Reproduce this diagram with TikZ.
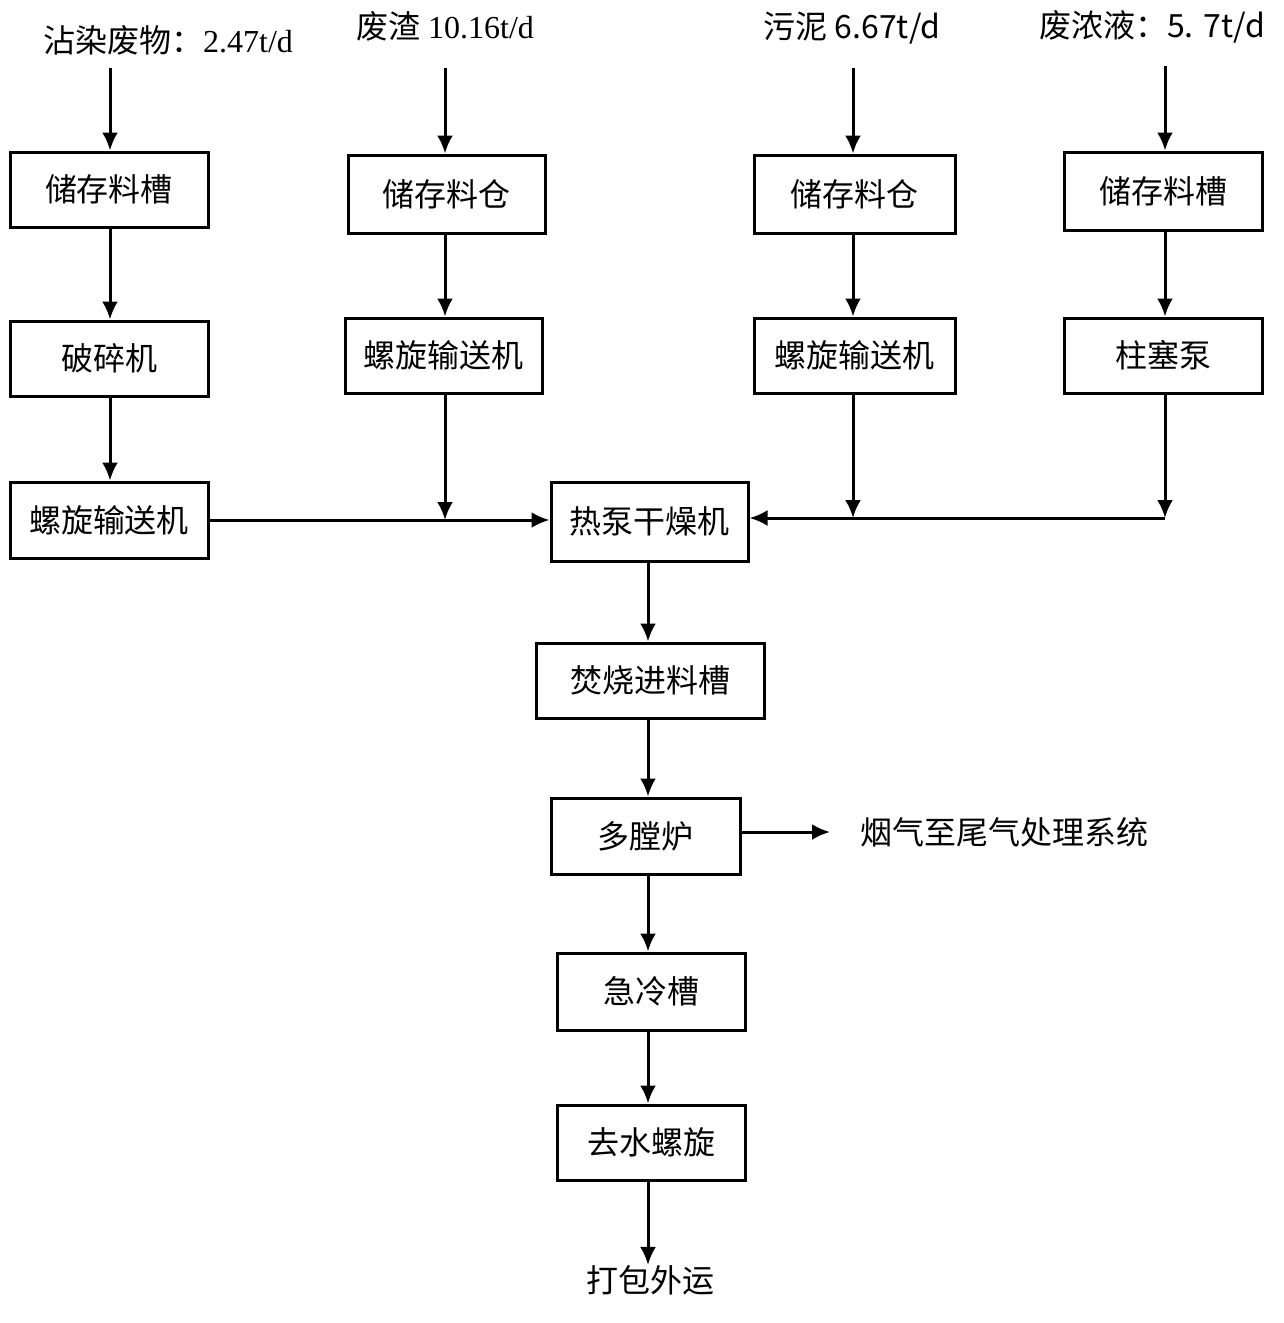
\documentclass[tikz,border=0pt]{standalone}
\usepackage{fontspec}
\setmainfont{Liberation Serif}
\newfontfamily\cjk{Noto Sans CJK SC}
\usetikzlibrary{arrows.meta}
\begin{document}
\begin{tikzpicture}[x=1pt,y=-1pt,
  box/.style={draw,line width=3pt,minimum width=#1,inner sep=0pt,font=\cjk\fontsize{32}{36}\selectfont},
  box/.default=198pt,
  lbl/.style={inner sep=0pt,font=\fontsize{32}{36}\selectfont},
  flow/.style={line width=3pt,-{Latex[length=18pt,width=16pt]}}]
\useasboundingbox (0,0) rectangle (1283,1323);
% top labels
\node[lbl] (l1) at (168,40) {{\cjk 沾染废物：}2.47t/d};
\node[lbl] (l2) at (445,26) {{\cjk 废渣}\ 10.16t/d};
\node[lbl] (l3) at (852,28) {\cjk 污泥 6.67t/d};
\node[lbl] (l4) at (1152,27) {\cjk 废浓液：5. 7t/d};
% boxes
\node[box, minimum height=75pt] (b1a) at (109,189.5) {储存料槽};
\node[box, minimum height=75pt] (b1b) at (109,358.5) {破碎机};
\node[box, minimum height=76pt] (b1c) at (109,520) {螺旋输送机};
\node[box=197pt, minimum height=78pt] (b2a) at (446.5,194) {储存料仓};
\node[box=197pt, minimum height=75pt] (b2b) at (443.5,355.5) {螺旋输送机};
\node[box=201pt, minimum height=78pt] (b3a) at (854.5,194) {储存料仓};
\node[box=201pt, minimum height=75pt] (b3b) at (854.5,355.5) {螺旋输送机};
\node[box, minimum height=78pt] (b4a) at (1163,191) {储存料槽};
\node[box, minimum height=75pt] (b4b) at (1163,355.5) {柱塞泵};
\node[box=197pt, minimum height=79pt] (hp) at (649.5,521.5) {热泵干燥机};
\node[box=228pt, minimum height=75pt] (feed) at (650,680.5) {焚烧进料槽};
\node[box=189pt, minimum height=76pt] (furn) at (645.5,836) {多膛炉};
\node[box=188pt, minimum height=77pt] (qu) at (651,991.5) {急冷槽};
\node[box=188pt, minimum height=75pt] (dw) at (651,1142.5) {去水螺旋};
\node[lbl,font=\cjk\fontsize{32}{36}\selectfont] (out) at (650,1280) {打包外运};
\node[lbl,font=\cjk\fontsize{32}{36}\selectfont,anchor=west] (gas) at (860,832) {烟气至尾气处理系统};
% coordinates
\coordinate (t1) at (110,68);
\coordinate (t2) at (445,68);
\coordinate (t3) at (853,68);
\coordinate (t4) at (1165,66);
\coordinate (j2) at (445,520);
\coordinate (j3) at (853,518);
\coordinate (j4) at (1165,518);
% arrows
\draw[flow] (t1) -- (t1 |- b1a.north);
\draw[flow] (t2) -- (t2 |- b2a.north);
\draw[flow] (t3) -- (t3 |- b3a.north);
\draw[flow] (t4) -- (t4 |- b4a.north);
\draw[flow] (b1a.south -| t1) -- (t1 |- b1b.north);
\draw[flow] (b1b.south -| t1) -- (t1 |- b1c.north);
\draw[flow] (b2a.south -| t2) -- (t2 |- b2b.north);
\draw[flow] (b3a.south -| t3) -- (t3 |- b3b.north);
\draw[flow] (b4a.south -| t4) -- (t4 |- b4b.north);
\draw[flow] (b1c.east |- j2) -- (hp.west |- j2);
\draw[flow] (b2b.south -| j2) -- (j2);
\draw[flow] (b3b.south -| j3) -- (j3);
\draw[flow] (b4b.south -| j4) -- (j4);
\draw[flow] (j4) -- (hp.east |- j4);
\draw[flow] (hp.south -| 648,0) -- (648,0 |- feed.north);
\draw[flow] (feed.south -| 648,0) -- (648,0 |- furn.north);
\draw[flow] (furn.south -| 648,0) -- (648,0 |- qu.north);
\draw[flow] (qu.south -| 648,0) -- (648,0 |- dw.north);
\draw[flow] (dw.south -| 648,0) -- (648,0 |- out.north);
\draw[flow] (furn.east |- 0,832) -- (830,832);
\end{tikzpicture}
\end{document}
